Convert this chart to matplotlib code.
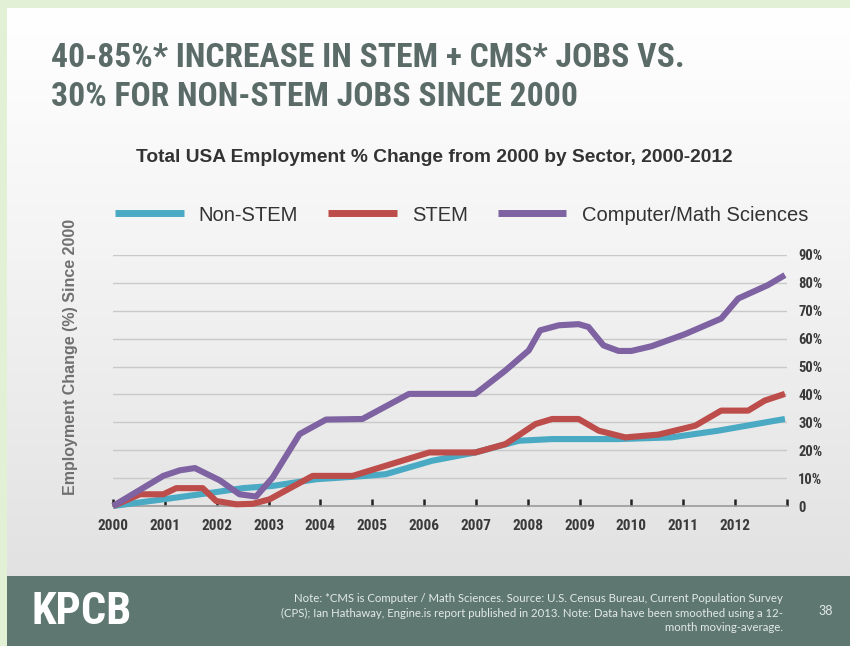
import numpy as np
import matplotlib
matplotlib.use("Agg")
import matplotlib.pyplot as plt
from matplotlib import font_manager as fm

# ---------------- data ----------------
years = ["2000", "2001", "2002", "2003", "2004", "2005", "2006",
         "2007", "2008", "2009", "2010", "2011", "2012"]
y_ticks = [0, 10, 20, 30, 40, 50, 60, 70, 80, 90]
y_tick_labels = ["0", "10%", "20%", "30%", "40%", "50%", "60%", "70%", "80%", "90%"]

nonstem_t = [2000.0, 2000.97, 2001.92, 2002.5, 2003.08, 2003.92, 2004.88, 2005.26,
             2006.15, 2006.99, 2007.83, 2008.47, 2009.75, 2010.77, 2011.67, 2012.96]
nonstem_v = [0.0, 2.4, 4.8, 6.4, 7.2, 9.6, 10.8, 11.4,
             16.2, 19.2, 23.4, 24.0, 24.0, 24.6, 27.0, 31.2]

stem_t = [2000.0, 2000.52, 2000.97, 2001.22, 2001.73, 2001.99, 2002.38, 2002.7,
          2003.02, 2003.85, 2004.62, 2006.1, 2006.99, 2007.57, 2008.15, 2008.47,
          2008.98, 2009.37, 2009.88, 2010.52, 2011.23, 2011.73, 2012.25, 2012.57, 2012.96]
stem_v = [0.0, 4.2, 4.2, 6.4, 6.4, 1.8, 0.6, 0.8,
          2.4, 10.8, 10.8, 19.2, 19.2, 22.2, 29.4, 31.2,
          31.2, 27.0, 24.6, 25.6, 28.8, 34.2, 34.2, 37.8, 40.2]

cms_t = [2000.0, 2000.97, 2001.29, 2001.58, 2002.06, 2002.44, 2002.76, 2003.08,
         2003.6, 2004.11, 2004.81, 2005.71, 2006.99, 2007.57, 2008.02, 2008.24,
         2008.6, 2008.98, 2009.17, 2009.46, 2009.75, 2010.0, 2010.39, 2011.03,
         2011.73, 2012.06, 2012.63, 2012.96]
cms_v = [0.0, 10.8, 12.8, 13.6, 9.2, 4.2, 3.4, 10.2,
         25.8, 31.0, 31.2, 40.2, 40.2, 48.6, 55.8, 63.0,
         64.8, 65.2, 64.2, 57.6, 55.6, 55.6, 57.3, 61.6,
         67.2, 74.4, 79.2, 82.8]

series_names = ["Non-STEM", "STEM", "Computer/Math Sciences"]

# ---------------- fonts ----------------
def find_condensed():
    cands = [("Liberation Sans Narrow", "normal"), ("Roboto Condensed", "normal"),
             ("Open Sans Condensed", "normal"), ("DejaVu Sans", "condensed"),
             ("Roboto", "condensed"), ("Open Sans", "condensed")]
    for fam, st in cands:
        try:
            p = fm.findfont(fm.FontProperties(family=fam, stretch=st, weight="bold"),
                            fallback_to_default=False)
        except Exception:
            continue
        low = p.lower()
        if "narrow" in low or "condensed" in low:
            return fam, st
    return None, None

CF, CST = find_condensed()
HAVE_COND = CF is not None
if not HAVE_COND:
    CF, CST = "Liberation Sans", "normal"

SANS = "Liberation Sans"
try:
    fm.findfont(fm.FontProperties(family="Lato"), fallback_to_default=False)
    NOTE = "Lato"
except Exception:
    NOTE = "DejaVu Sans"

W, H = 850, 646
fig = plt.figure(figsize=(W / 100, H / 100), dpi=100)
fig.patch.set_facecolor("#e2f0d6")

def fx(px):
    return px / W

def fy(py):
    return 1 - py / H

# slide background with light vertical gradient
bg = fig.add_axes([fx(7), fy(577), fx(850 - 7), (577 - 8) / H])
grad = np.linspace(0, 1, 256).reshape(-1, 1)
top = np.array([1.0, 1.0, 1.0])
bot = np.array([0.885, 0.885, 0.885])
img = top + (bot - top) * grad[..., None] ** 1.1
bg.imshow(img.reshape(256, 1, 3), aspect="auto", extent=[0, 1, 0, 1], origin="upper")
bg.set_axis_off()

# footer
ft = fig.add_axes([fx(7), 0, fx(850 - 7), (H - 576) / H])
ft.set_facecolor("#5e7871")
ft.set_xticks([]); ft.set_yticks([])
for s in ft.spines.values():
    s.set_visible(False)
ft.set_zorder(1)

# ---------------- chart axes ----------------
x_left, x_right = 113, 787
y_bot, y_top = 506, 255
ax = fig.add_axes([fx(x_left), fy(y_bot), fx(x_right - x_left), (y_bot - y_top) / H])
ax.set_facecolor("none")
ax.set_xlim(2000, 2013)
ax.set_ylim(0, 90)

for v in y_ticks[1:]:
    ax.axhline(v, color="#c9c9c9", lw=1.0, zorder=1)

colors = ["#4aaac3", "#bd4d4a", "#7e62a1"]
lines = []
for t, v, c, n in zip([nonstem_t, stem_t, cms_t], [nonstem_v, stem_v, cms_v], colors, series_names):
    ln, = ax.plot(t, v, color=c, lw=4.4, label=n, clip_on=False, zorder=3,
                  solid_joinstyle="round", solid_capstyle="butt")
    lines.append(ln)

for s in ["top", "left", "right"]:
    ax.spines[s].set_visible(False)
ax.spines["bottom"].set_color("#9a9a9a")
ax.spines["bottom"].set_linewidth(1.2)

tick_size = 11 if HAVE_COND else 9.5
ax.set_xticks(list(range(2000, 2014)))
ax.set_xticklabels(years + [""])
ax.tick_params(axis="x", direction="in", length=5, width=1.8, color="#222222",
               pad=9, labelsize=tick_size)
for lab in ax.get_xticklabels():
    lab.set_fontfamily(CF)
    lab.set_fontstretch(CST)
    lab.set_fontweight("bold")
    lab.set_color("#3a3a3a")

ax.yaxis.tick_right()
ax.set_yticks(y_ticks)
ax.set_yticklabels(y_tick_labels)
ax.tick_params(axis="y", length=0, pad=8, labelsize=tick_size - 0.5)
for lab in ax.get_yticklabels():
    lab.set_fontfamily(CF)
    lab.set_fontstretch(CST)
    lab.set_fontweight("bold")
    lab.set_color("#3a3a3a")

leg = ax.legend(handles=lines, loc="center left", bbox_to_anchor=(fx(97), fy(215)),
                bbox_transform=fig.transFigure, ncol=3, frameon=False,
                handlelength=3.4, handletextpad=0.75, columnspacing=1.5,
                prop={"family": SANS, "size": 14.5})
for txt in leg.get_texts():
    txt.set_color("#333333")
for lh in leg.get_lines():
    lh.set_linewidth(5)

# ---------------- texts ----------------
title_size = 24.2 if HAVE_COND else 20.5
fig.text(fx(51), fy(58), "40-85%* INCREASE IN STEM + CMS* JOBS VS.",
         family=CF, stretch=CST, weight="bold", size=title_size, color="#5b6c68",
         va="center", ha="left")
fig.text(fx(51), fy(97), "30% FOR NON-STEM JOBS SINCE 2000",
         family=CF, stretch=CST, weight="bold", size=title_size, color="#5b6c68",
         va="center", ha="left")

fig.text(fx(434), fy(157), "Total USA Employment % Change from 2000 by Sector, 2000-2012",
         family=SANS, weight="bold", size=13.8, color="#333333", va="center", ha="center")

fig.text(fx(71), fy(357), "Employment Change (%) Since 2000", rotation=90,
         family=SANS, weight="bold", size=11.5, color="#707070", va="center", ha="center")

kp_size = 32 if HAVE_COND else 26
fig.text(fx(32), fy(612), "KPCB", family=CF, stretch=CST, weight="bold", size=kp_size,
         color="white", va="center", ha="left", zorder=5)

note = ("Note: *CMS is Computer / Math Sciences. Source: U.S. Census Bureau, Current Population Survey\n"
        "(CPS); Ian Hathaway, Engine.is report published in 2013. Note: Data have been smoothed using a 12-\n"
        "month moving-average.")
fig.text(fx(783), fy(613), note, family=NOTE, size=8.2, color="#e3e9e7",
         va="center", ha="right", multialignment="right", linespacing=1.35, zorder=5)
fig.text(fx(826), fy(611), "38", family=NOTE, size=9, color="#e3e9e7",
         va="center", ha="center", zorder=5)

fig.savefig("out.png", dpi=100, facecolor=fig.get_facecolor())
